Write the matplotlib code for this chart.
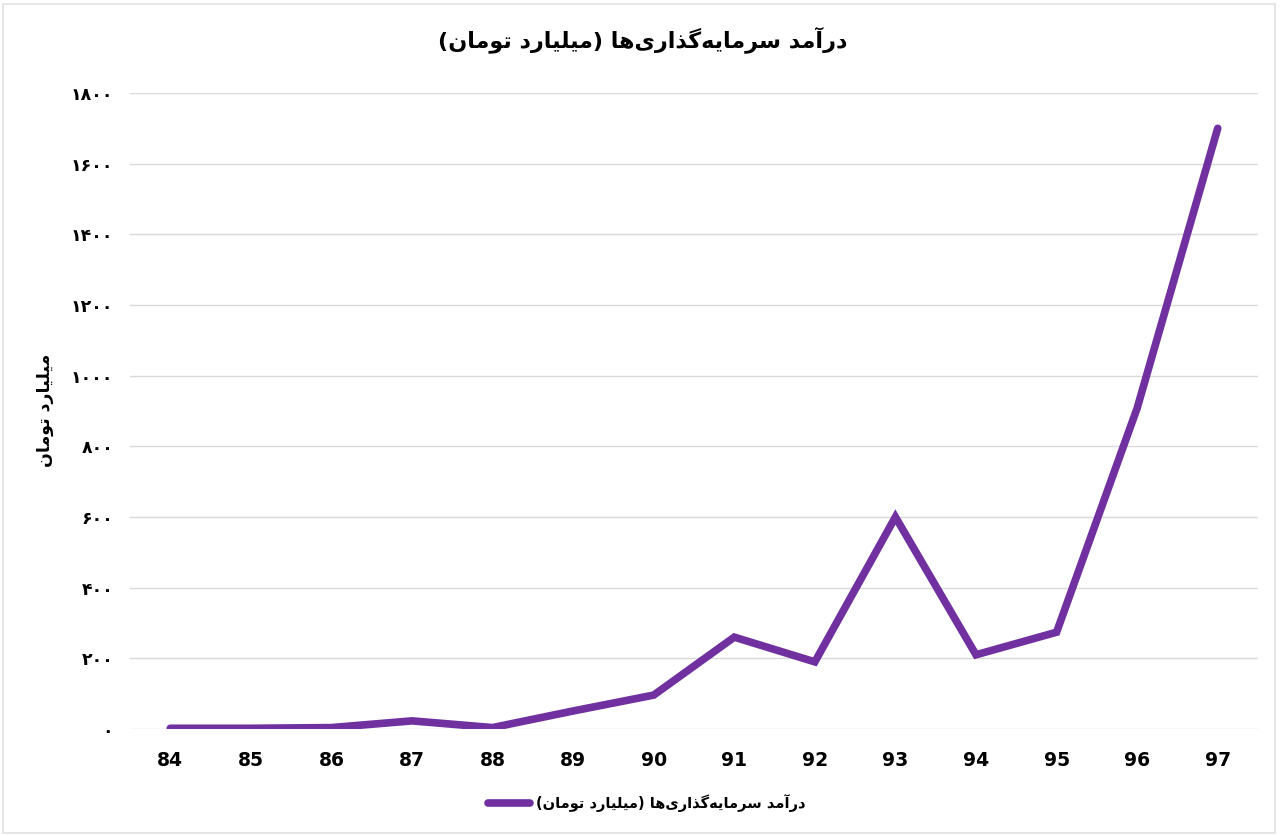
''' ========================================================
Aim: Investment income line chart (billion toman)
---------------------------------------------------------'''

# importing libraries
import matplotlib; matplotlib.use("Agg")
import matplotlib.pyplot as plt
from matplotlib.patches import Rectangle

# data
years       = ['84', '85', '86', '87', '88', '89', '90', '91', '92', '93', '94', '95', '96', '97']
income      = [2, 2, 4, 23, 4, 51, 96, 260, 190, 600, 210, 274, 908, 1700]
y_ticks     = [0, 200, 400, 600, 800, 1000, 1200, 1400, 1600, 1800]
title_fa    = 'درآمد سرمایه\u200cگذاری\u200cها (میلیارد تومان)'
ylabel_fa   = 'میلیارد تومان'

# minimal persian shaping (matplotlib has no complex text layout)
forms = {
    '\u0627': ('\uFE8D', '\uFE8E', None, None),
    '\u0622': ('\uFE81', '\uFE82', None, None),
    '\u062F': ('\uFEA9', '\uFEAA', None, None),
    '\u0630': ('\uFEAB', '\uFEAC', None, None),
    '\u0631': ('\uFEAD', '\uFEAE', None, None),
    '\u0648': ('\uFEED', '\uFEEE', None, None),
    '\u0645': ('\uFEE1', '\uFEE2', '\uFEE3', '\uFEE4'),
    '\u0633': ('\uFEB1', '\uFEB2', '\uFEB3', '\uFEB4'),
    '\u0644': ('\uFEDD', '\uFEDE', '\uFEDF', '\uFEE0'),
    '\u062A': ('\uFE95', '\uFE96', '\uFE97', '\uFE98'),
    '\u0646': ('\uFEE5', '\uFEE6', '\uFEE7', '\uFEE8'),
    '\u0647': ('\uFEE9', '\uFEEA', '\uFEEB', '\uFEEC'),
    '\u06CC': ('\uFBFC', '\uFBFD', '\uFBFE', '\uFBFF'),
    '\u06AF': ('\uFB92', '\uFB93', '\uFB94', '\uFB95'),
}
mirror = {'(': ')', ')': '('}
def dual(c):
    return c in forms and forms[c][2] is not None
def joins(c):
    return c in forms
def shape(s):
    out = []
    for i, c in enumerate(s):
        if c not in forms:
            if c != '\u200c':
                out.append(mirror.get(c, c))
            continue
        prev = s[i-1] if i > 0 else ''
        nxt  = s[i+1] if i < len(s) - 1 else ''
        jp = dual(prev)
        jn = dual(c) and joins(nxt)
        if jp and jn:   out.append(forms[c][3])
        elif jp:        out.append(forms[c][1])
        elif jn:        out.append(forms[c][2])
        else:           out.append(forms[c][0])
    return ''.join(out[::-1])
def fa_digits(n):
    return str(n).translate(str.maketrans('0123456789', '۰۱۲۳۴۵۶۷۸۹'))

plt.rcParams['font.family'] = ['DejaVu Sans']
purple = '#7030A0'

# plotting
fig = plt.figure(figsize=(12.8, 8.36), dpi=100)
ax  = fig.add_axes([130/1280, 107/836, 1128/1280, 636/836])
x   = list(range(len(years)))
line, = ax.plot(x, income, color=purple, lw=5.5,
                solid_capstyle='round', solid_joinstyle='miter')

ax.set_xlim(-0.5, len(years) - 0.5)
ax.set_ylim(0, 1800)
ax.set_xticks(x)
ax.set_xticklabels(years, fontsize=13.5, fontweight='bold')
ax.set_yticks(y_ticks)
ax.set_yticklabels([fa_digits(v) for v in y_ticks], fontsize=12.5, fontweight='bold')
ax.tick_params(length=0)
ax.tick_params(axis='x', pad=16)
ax.tick_params(axis='y', pad=12)
ax.grid(axis='y', color='#d9d9d9', lw=1)
ax.set_axisbelow(True)
for sp in ax.spines.values():
    sp.set_visible(False)

# texts
fig.text(0.502, 1 - 40/836, shape(title_fa), ha='center', va='center',
         fontsize=16, fontweight='bold')
fig.text(0.035, 1 - 410/836, shape(ylabel_fa), ha='center', va='center',
         rotation=90, fontsize=12.5, fontweight='bold')
fig.legend([line], [shape(title_fa)], loc='center', bbox_to_anchor=(0.505, 1 - 803/836),
           frameon=False, handlelength=2.9, handletextpad=0.4,
           prop={'size': 10.5, 'weight': 'bold'})

# outer border
fig.patches.append(Rectangle((3/1280, 3/836), 1272/1280, 829/836, transform=fig.transFigure,
                             fill=False, edgecolor='#e2e2e2', lw=1.2))

fig.savefig('out.png', dpi=100)
